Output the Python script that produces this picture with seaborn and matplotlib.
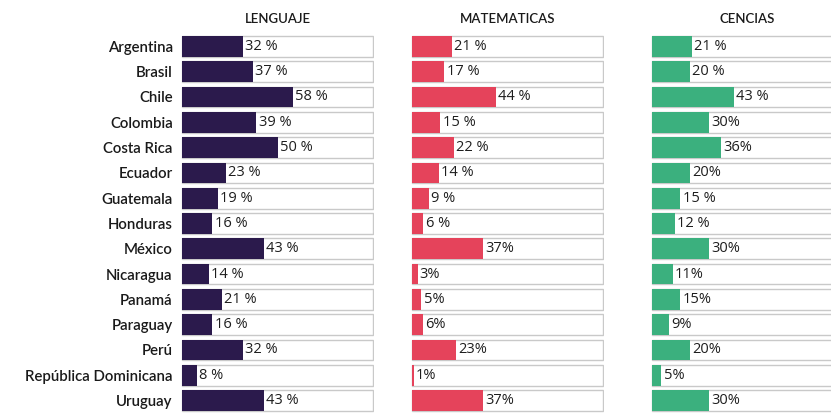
import seaborn as sns
import matplotlib.pyplot as plt

# data
countries = ['Argentina', 'Brasil', 'Chile', 'Colombia', 'Costa Rica', 'Ecuador',
             'Guatemala', 'Honduras', 'México', 'Nicaragua', 'Panamá', 'Paraguay',
             'Perú', 'República Dominicana', 'Uruguay']
lenguaje = [32, 37, 58, 39, 50, 23, 19, 16, 43, 14, 21, 16, 32, 8, 43]
matematicas = [21, 17, 44, 15, 22, 14, 9, 6, 37, 3, 5, 6, 23, 1, 37]
ciencias = [21, 20, 43, 30, 36, 20, 15, 12, 30, 11, 15, 9, 20, 5, 30]
lenguaje_labels = ['32 %', '37 %', '58 %', '39 %', '50 %', '23 %', '19 %', '16 %',
                   '43 %', '14 %', '21 %', '16 %', '32 %', '8 %', '43 %']
matematicas_labels = ['21 %', '17 %', '44 %', '15 %', '22 %', '14 %', '9 %', '6 %',
                      '37%', '3%', '5%', '6%', '23%', '1%', '37%']
ciencias_labels = ['21 %', '20 %', '43 %', '30%', '36%', '20%', '15 %', '12 %',
                   '30%', '11%', '15%', '9%', '20%', '5%', '30%']
box_max = [100] * len(countries)

panels = [
    ('LENGUAJE', lenguaje, lenguaje_labels, '#2b1a4c', 181),
    ('MATEMATICAS', matematicas, matematicas_labels, '#e5435b', 411),
    ('CENCIAS', ciencias, ciencias_labels, '#3bb07e', 651),
]

W, H = 831, 415
fig = plt.figure(figsize=(W / 100, H / 100), dpi=100)
fig.patch.set_facecolor('white')

row = 25.64
top_px = 44 - row / 2
box_w = 193

for i, (title, values, labels, color, left_px) in enumerate(panels):
    ax = fig.add_axes([left_px / W, 1 - (top_px + 15 * row) / H,
                       box_w / W, 15 * row / H])
    # white background boxes with a thin grey border
    sns.barplot(x=box_max, y=countries, color='white', edgecolor='#c9c9c9',
                linewidth=1, width=0.82, saturation=1, ax=ax)
    sns.barplot(x=values, y=countries, color=color, linewidth=0,
                width=0.82, saturation=1, ax=ax)
    for j, (v, lab) in enumerate(zip(values, labels)):
        ax.text(v + 1.2, j, lab, va='center', ha='left', fontsize=10.5,
                color='#1e1e1e', family='Open Sans')
    ax.set_xlim(-0.4, 100.4)
    ax.set_ylim(14.6, -0.6)
    ax.set_xlabel('')
    ax.set_ylabel('')
    ax.set_xticks([])
    for s in ax.spines.values():
        s.set_visible(False)
    ax.tick_params(left=False, pad=2.5)
    if i == 0:
        for t in ax.get_yticklabels():
            t.set_fontsize(10.8)
            t.set_family('Lato')
            t.set_fontweight('semibold')
            t.set_color('#1a1a1a')
    else:
        ax.set_yticklabels([])
    ax.set_title(title, fontsize=9.5, family='Lato', fontweight='semibold',
                 color='#1a1a1a', pad=6)

plt.savefig('out.png', dpi=100)
